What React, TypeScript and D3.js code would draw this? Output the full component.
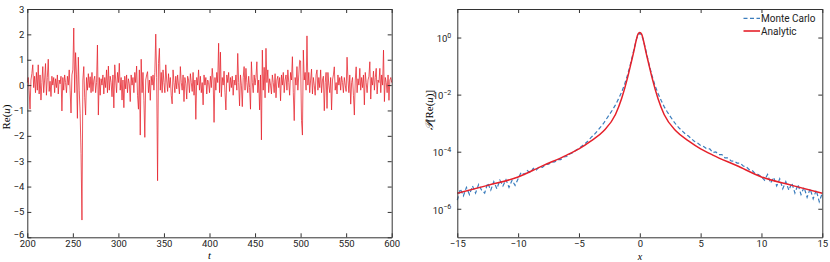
import React, { useEffect, useRef } from 'react';
import * as d3 from 'd3';

// left panel: Re(u) sampled once per unit of t, starting at t = 200
const reT0 = 200;
const reU = [
  0.1, 0.3, -0.2, -0.95, 0.2, 0.45, 0.8, -0.1, 0.35, -0.3,
  0.5, -0.2, 0.8, -0.35, 0.4, -0.59, 0.1, 0.73, -0.3, 0.2,
  0.85, -0.4, 0.3, 1.02, -0.25, 0.15, -0.45, 0.35, 0.0, 0.3,
  -0.3, 0.25, -0.1, 0.4, -0.35, 0.2, 0.05, 0.35, -1.02, 0.3,
  -0.2, 0.4, 0.1, -0.3, 0.35, 0.0, 0.6, -0.2, -1.1, 0.4,
  0.6, 2.25, -0.3, 1.28, 0.4, -1.31, 1.1, -0.2, -1.11, -2.7,
  -5.32, 0.2, 0.73, -0.5, -1.18, 0.3, -0.2, 0.45, -0.1, 0.33,
  -0.3, 0.5, -0.25, 0.2, 0.35, -0.3, 0.1, 1.58, -1.18, 0.3,
  -0.4, 0.25, 0.0, 0.4, -0.35, 0.3, -0.1, 0.6, -0.3, 0.75,
  -0.2, 0.35, 0.1, -0.46, 0.4, -0.9, 0.8, 0.2, -0.3, 0.5,
  0.1, 0.86, -0.2, 0.3, -0.59, 0.2, -0.89, 0.35, -0.15, 0.4,
  -0.3, 0.25, 0.05, -0.65, 0.4, 0.0, 0.3, -0.3, 0.5, 0.1,
  0.75, -0.4, -0.95, 0.6, -1.97, 1.02, -0.3, 0.5, -0.6, -2.06,
  0.2, 0.4, 0.53, -0.3, 0.2, -0.6, 0.35, 0.0, 0.4, -0.2,
  0.5, 2.01, 0.3, -3.77, 0.86, 1.45, -0.2, 0.5, -0.3, 0.6,
  0.1, -0.3, 0.8, 0.2, -0.25, 0.45, -0.1, 0.3, -0.4, -0.74,
  0.6, 0.1, -0.3, 0.35, -0.15, 0.4, 0.0, -0.35, 0.73, 0.1,
  -0.2, 0.4, -0.65, 0.3, 0.05, -0.55, 0.35, 0.2, -0.3, 0.45,
  0.1, -0.25, 0.5, -0.4, 0.2, -1.35, 0.3, 0.0, 0.6, -0.2,
  0.35, -0.3, 0.1, -0.78, 0.4, 0.0, 0.3, -0.35, 0.2, 0.1,
  -0.3, 0.35, -0.1, 0.66, 0.2, -1.47, 0.3, -0.2, 0.5, 0.1,
  1.65, -0.3, 1.3, -0.46, 0.3, 0.0, 0.55, -0.3, -0.98, 0.4,
  0.1, 0.5, -0.25, 0.3, -0.1, 0.35, -0.4, 0.2, 0.0, 0.4,
  -0.2, 1.25, 0.1, -0.82, 0.4, 0.0, -0.85, 0.3, 0.73, -0.2,
  0.66, 0.1, -0.3, 0.35, -0.1, -0.95, 0.92, 0.1, -0.3, 0.4,
  0.0, 0.3, 0.92, -0.3, 0.2, -0.98, 0.4, -2.16, 1.38, -0.2,
  0.7, -0.5, 1.45, 0.1, 0.6, -0.3, 0.25, 0.0, -0.35, 0.4,
  0.1, -0.3, 0.45, -0.5, 0.2, 0.35, -0.1, 0.3, -0.62, 0.4,
  0.0, 0.5, -0.3, 0.2, 0.4, -0.2, 0.6, 0.1, -0.4, 0.5,
  0.2, 1.12, -0.3, -1.4, 0.3, 0.0, 0.73, -0.2, 0.4, 0.98,
  0.95, -1.4, -1.97, 1.38, 0.2, 0.5, -0.2, 1.94, 0.0, 0.5,
  -0.3, 0.2, 0.63, -0.35, 0.3, 0.0, -0.4, 0.4, 0.6, -0.2,
  0.3, -0.1, 0.6, -0.3, 0.2, 0.35, -1.01, 0.1, 0.5, -0.92,
  0.5, 0.0, -0.3, 0.3, -0.98, 0.2, 0.4, 0.72, -0.2, 0.1,
  -0.35, 0.4, 0.0, 0.3, -0.2, 0.35, 0.1, -0.3, 0.3, 0.0,
  -0.25, 1.1, 0.2, -0.3, 0.4, -0.75, 0.1, 0.3, -0.4, -1.18,
  0.2, 0.72, -0.3, 0.25, 0.0, 0.66, -0.2, 0.3, -0.1, 0.4,
  -0.78, 0.5, 0.1, -0.3, 0.2, 0.35, 0.92, -0.55, 0.3, 0.0,
  0.55, -0.2, 0.3, 0.66, -0.35, 0.2, 0.1, 0.66, -0.3, 0.4,
  0.0, 1.38, -0.65, 0.3, 0.1, -0.3, 0.4, -0.6, 0.2, 0.3,
  0.1,
];
const tTicks = [200, 250, 300, 350, 400, 450, 500, 550, 600];
const reTicks = [-6, -5, -4, -3, -2, -1, 0, 1, 2, 3];

// right panel: Monte Carlo histogram, log10 of density, every 0.25 from x = -15
const mcX0 = -15;
const mcStep = 0.25;
const mcLog = [
  -5.7, -5.3, -5.55, -5.25, -5.5, -5.2, -5.45, -5.15, -5.35,
  -5.45, -5.1, -5.35, -5.05, -5.3, -5.0, -5.2, -4.98, -5.25, -5.0, -5.18,
  -4.95, -4.72, -4.8, -4.66, -4.74, -4.58, -4.64, -4.52, -4.55, -4.45,
  -4.44, -4.37, -4.36, -4.28, -4.28, -4.18, -4.17, -4.08, -4.03, -3.95,
  -3.88, -3.8, -3.72, -3.62, -3.5, -3.4, -3.28, -3.15, -3.02, -2.86,
  -2.7, -2.54, -2.36, -2.15, -1.92, -1.64, -1.3, -0.9, -0.45, -0.02,
  0.16,
  -0.02, -0.45, -0.92, -1.33, -1.68, -1.96, -2.2, -2.42, -2.6, -2.76,
  -2.92, -3.06, -3.18, -3.28, -3.38, -3.45, -3.55, -3.64, -3.7, -3.78,
  -3.82, -3.9, -3.9, -4.03, -4.01, -4.1, -4.1, -4.22, -4.22, -4.32,
  -4.33, -4.4, -4.4, -4.5, -4.53, -4.63, -4.66, -4.78, -4.8, -4.88,
  -5.0, -4.8, -5.1, -4.9, -5.2, -4.95, -5.3, -5.05, -5.35, -5.1,
  -5.45, -5.15, -5.5, -5.25, -5.6, -5.3, -5.65, -5.35, -5.75, -5.45,
];

const anX = [-15, -12.5, -10, -8, -6, -5, -4, -3, -2, -1.5, -1, -0.75, -0.5, -0.3, -0.15, 0,
  0.15, 0.3, 0.5, 0.75, 1, 1.5, 2, 3, 4, 5, 6, 8, 10, 12.5, 15];
const anP = [3.5e-6, 6.6e-6, 1.3e-5, 3.2e-5, 7.6e-5, 1.26e-4, 2.4e-4, 5.2e-4, 2.0e-3, 7.1e-3, 0.04, 0.112, 0.316, 0.79, 1.32, 1.51,
  1.32, 0.79, 0.316, 0.112, 0.04, 7.1e-3, 2.0e-3, 5.2e-4, 2.4e-4, 1.26e-4, 7.6e-5, 3.2e-5, 1.3e-5, 6.6e-6, 3.5e-6];

const xTicks = [-15, -10, -5, 0, 5, 10, 15];
const pTicks = [1, 1e-2, 1e-4, 1e-6];

const RED = '#e5202a';
const BLUE = '#3b7dbd';
const AXIS = '#333';
const TICK_FONT = 'Roboto, sans-serif';
const MATH_FONT = '"Liberation Serif", "DejaVu Serif", serif';

function styleAxis(g) {
  g.attr('font-family', TICK_FONT).attr('font-size', 9.5);
  g.select('.domain').attr('stroke', AXIS);
  g.selectAll('.tick line').attr('stroke', AXIS);
  g.selectAll('.tick text').attr('fill', '#222');
}

// boxed MATLAB-style frame, ticks pointing inward on all four sides
function frame(root, x, y, xVals, yVals, xFmt, yFmt, yPad) {
  const [x0, x1] = x.range();
  const [y1, y0] = y.range();
  root.append('g').attr('transform', `translate(0,${y1})`)
    .call(d3.axisBottom(x).tickValues(xVals).tickSizeInner(-4).tickSizeOuter(0).tickPadding(3).tickFormat(xFmt))
    .call(styleAxis);
  root.append('g').attr('transform', `translate(0,${y0})`)
    .call(d3.axisTop(x).tickValues(xVals).tickSizeInner(-4).tickSizeOuter(0).tickFormat(() => ''))
    .call(styleAxis);
  const left = root.append('g').attr('transform', `translate(${x0},0)`)
    .call(d3.axisLeft(y).tickValues(yVals).tickSizeInner(-4).tickSizeOuter(0).tickPadding(yPad).tickFormat(yFmt))
    .call(styleAxis);
  root.append('g').attr('transform', `translate(${x1},0)`)
    .call(d3.axisRight(y).tickValues(yVals).tickSizeInner(-4).tickSizeOuter(0).tickFormat(() => ''))
    .call(styleAxis);
  return left;
}

export default function App() {
  const svgRef = useRef(null);

  useEffect(() => {
    const svg = d3.select(svgRef.current);
    svg.selectAll('*').remove();

    // ---- left: time series ----
    const tx = d3.scaleLinear().domain([200, 600]).range([27.3, 391.7]);
    const uy = d3.scaleLinear().domain([-6, 3]).range([237.3, 9]);
    const series = reU.map((v, i) => [reT0 + i, v]);

    svg.append('path')
      .datum(series)
      .attr('fill', 'none')
      .attr('stroke', RED)
      .attr('stroke-width', 0.75)
      .attr('d', d3.line().x(d => tx(d[0])).y(d => uy(d[1])));

    const lAxis = frame(svg, tx, uy, tTicks, reTicks, d3.format('d'), d3.format('d'), 3);
    // lowest label sits right on the corner, as in the original; lift it a hair
    lAxis.selectAll('.tick text').filter(d => d === -6).attr('dy', '0.05em');

    svg.append('text').attr('x', 209.5).attr('y', 259)
      .attr('font-family', MATH_FONT).attr('font-style', 'italic').attr('font-size', 10.5)
      .attr('text-anchor', 'middle').text('t');
    const ry = svg.append('text').attr('transform', 'translate(10,117) rotate(-90)')
      .attr('font-family', MATH_FONT).attr('font-size', 11).attr('text-anchor', 'middle');
    ry.append('tspan').text('Re(');
    ry.append('tspan').attr('font-style', 'italic').text('u');
    ry.append('tspan').text(')');

    // ---- right: density on log scale ----
    const px = d3.scaleLinear().domain([-15, 15]).range([457.3, 822.3]);
    const py = d3.scaleLog().domain([1e-7, 10]).range([237.3, 9]);

    const mc = mcLog.map((v, i) => [mcX0 + i * mcStep, Math.pow(10, v)]);
    svg.append('path')
      .datum(mc)
      .attr('fill', 'none')
      .attr('stroke', BLUE)
      .attr('stroke-width', 1.2)
      .attr('stroke-dasharray', '4,2.5')
      .attr('d', d3.line().x(d => px(d[0])).y(d => py(d[1])));

    const an = anX.map((x, i) => [x, anP[i]]);
    svg.append('path')
      .datum(an)
      .attr('fill', 'none')
      .attr('stroke', RED)
      .attr('stroke-width', 1.5)
      .attr('d', d3.line().x(d => px(d[0])).y(d => py(d[1])).curve(d3.curveMonotoneX));

    const ly = frame(svg, px, py, xTicks, pTicks, d3.format('d'), () => '', 6);
    ly.selectAll('.tick text').each(function (d) {
      const t = d3.select(this).attr('dy', '0.45em');
      t.append('tspan').text('10');
      t.append('tspan').attr('dy', '-0.6em').attr('font-size', 7)
        .text(String(Math.round(Math.log10(d))).replace('-', '\u2212'));
    });

    svg.append('text').attr('x', 640).attr('y', 259.5)
      .attr('font-family', MATH_FONT).attr('font-style', 'italic').attr('font-size', 10)
      .attr('text-anchor', 'middle').text('x');
    const pyLab = svg.append('text').attr('transform', 'translate(433,110) rotate(-90)')
      .attr('font-family', MATH_FONT).attr('font-size', 11).attr('text-anchor', 'middle');
    pyLab.append('tspan').attr('font-style', 'italic').text('\u{1D4AB}');
    pyLab.append('tspan').text('[Re(');
    pyLab.append('tspan').attr('font-style', 'italic').text('u');
    pyLab.append('tspan').text(')]');

    // legend
    const legend = [
      { name: 'Monte Carlo', color: BLUE, dash: '4,2.5', y: 18.3 },
      { name: 'Analytic', color: RED, dash: null, y: 31 },
    ];
    const lg = svg.append('g');
    legend.forEach(l => {
      lg.append('line').attr('x1', 743.5).attr('x2', 760).attr('y1', l.y).attr('y2', l.y)
        .attr('stroke', l.color).attr('stroke-width', l.dash ? 1.2 : 1.6)
        .attr('stroke-dasharray', l.dash);
      lg.append('text').attr('x', 761).attr('y', l.y).attr('dy', '0.35em')
        .attr('font-family', TICK_FONT).attr('font-size', 10).attr('fill', '#222')
        .text(l.name);
    });
  }, []);

  return (
    <svg ref={svgRef} width={830} height={262}
      style={{ position: 'absolute', left: 0, top: 0, background: '#fff' }} />
  );
}
